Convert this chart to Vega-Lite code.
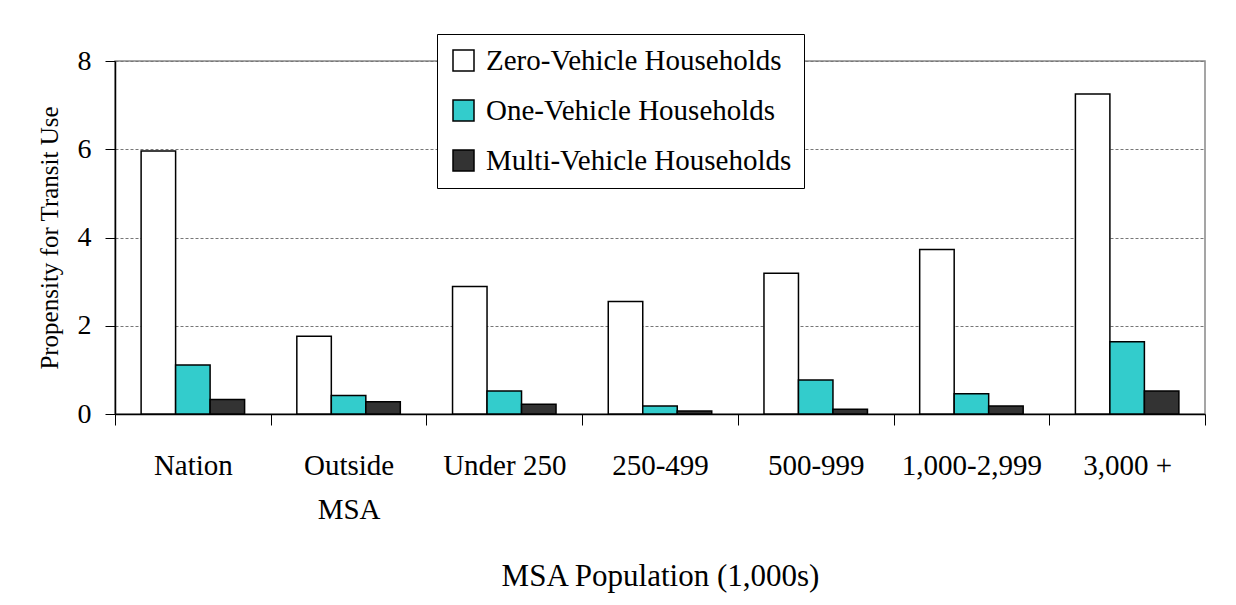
{
  "$schema": "https://vega.github.io/schema/vega-lite/v6.json",
  "autosize": "none",
  "width": 1090,
  "height": 353,
  "padding": {"left": 115, "top": 61, "right": 31, "bottom": 191},
  "background": "white",
  "config": {
    "font": "Liberation Serif",
    "view": {"stroke": "#888888", "strokeWidth": 1.5}
  },
  "data": {
    "values": [
      {"msa": "Nation", "type": "Zero-Vehicle Households", "value": 5.96},
      {"msa": "Nation", "type": "One-Vehicle Households", "value": 1.11},
      {"msa": "Nation", "type": "Multi-Vehicle Households", "value": 0.33},
      {"msa": "Outside MSA", "type": "Zero-Vehicle Households", "value": 1.76},
      {"msa": "Outside MSA", "type": "One-Vehicle Households", "value": 0.42},
      {"msa": "Outside MSA", "type": "Multi-Vehicle Households", "value": 0.28},
      {"msa": "Under 250", "type": "Zero-Vehicle Households", "value": 2.89},
      {"msa": "Under 250", "type": "One-Vehicle Households", "value": 0.52},
      {"msa": "Under 250", "type": "Multi-Vehicle Households", "value": 0.22},
      {"msa": "250-499", "type": "Zero-Vehicle Households", "value": 2.55},
      {"msa": "250-499", "type": "One-Vehicle Households", "value": 0.18},
      {"msa": "250-499", "type": "Multi-Vehicle Households", "value": 0.07},
      {"msa": "500-999", "type": "Zero-Vehicle Households", "value": 3.19},
      {"msa": "500-999", "type": "One-Vehicle Households", "value": 0.77},
      {"msa": "500-999", "type": "Multi-Vehicle Households", "value": 0.11},
      {"msa": "1,000-2,999", "type": "Zero-Vehicle Households", "value": 3.73},
      {"msa": "1,000-2,999", "type": "One-Vehicle Households", "value": 0.46},
      {"msa": "1,000-2,999", "type": "Multi-Vehicle Households", "value": 0.18},
      {"msa": "3,000 +", "type": "Zero-Vehicle Households", "value": 7.25},
      {"msa": "3,000 +", "type": "One-Vehicle Households", "value": 1.64},
      {"msa": "3,000 +", "type": "Multi-Vehicle Households", "value": 0.52}
    ]
  },
  "mark": {"type": "bar", "stroke": "black", "strokeWidth": 1.5},
  "encoding": {
    "x": {
      "field": "msa",
      "type": "nominal",
      "sort": null,
      "scale": {"paddingInner": 0, "paddingOuter": 0},
      "axis": {
        "title": "MSA Population (1,000s)",
        "titleFontSize": 31,
        "titleFontWeight": "normal",
        "titleColor": "black",
        "titlePadding": 37,
        "labelAngle": 0,
        "labelFontSize": 29,
        "labelColor": "black",
        "labelPadding": 26,
        "labelLineHeight": 44,
        "labelExpr": "datum.value == 'Outside MSA' ? ['Outside', 'MSA'] : datum.value",
        "tickBand": "extent",
        "tickSize": 11,
        "tickColor": "black",
        "domainColor": "black",
        "domainWidth": 1.5,
        "grid": false
      }
    },
    "xOffset": {
      "field": "type",
      "type": "nominal",
      "sort": ["Zero-Vehicle Households", "One-Vehicle Households", "Multi-Vehicle Households"],
      "scale": {"paddingInner": 0, "paddingOuter": 0.757}
    },
    "y": {
      "field": "value",
      "type": "quantitative",
      "scale": {"domain": [0, 8], "nice": false},
      "axis": {
        "title": "Propensity for Transit Use",
        "titleFontSize": 25,
        "titleFontWeight": "normal",
        "titleColor": "black",
        "titlePadding": 15,
        "values": [0, 2, 4, 6, 8],
        "labelFontSize": 28,
        "labelColor": "black",
        "labelPadding": 14,
        "tickSize": 10,
        "tickColor": "black",
        "domainColor": "black",
        "domainWidth": 1.5,
        "grid": true,
        "gridColor": "#777777",
        "gridDash": [3, 2],
        "gridWidth": 1
      }
    },
    "color": {
      "field": "type",
      "type": "nominal",
      "sort": ["Zero-Vehicle Households", "One-Vehicle Households", "Multi-Vehicle Households"],
      "scale": {
        "domain": ["Zero-Vehicle Households", "One-Vehicle Households", "Multi-Vehicle Households"],
        "range": ["#ffffff", "#33cccc", "#333333"]
      },
      "legend": {
        "title": null,
        "orient": "none",
        "legendX": 322,
        "legendY": -27,
        "fillColor": "white",
        "strokeColor": "black",
        "padding": 12,
        "symbolType": "square",
        "symbolSize": 441,
        "symbolStrokeColor": "black",
        "symbolStrokeWidth": 1.5,
        "labelFontSize": 29,
        "labelColor": "black",
        "labelLimit": 400,
        "rowPadding": 20,
        "labelOffset": 8
      }
    }
  }
}
